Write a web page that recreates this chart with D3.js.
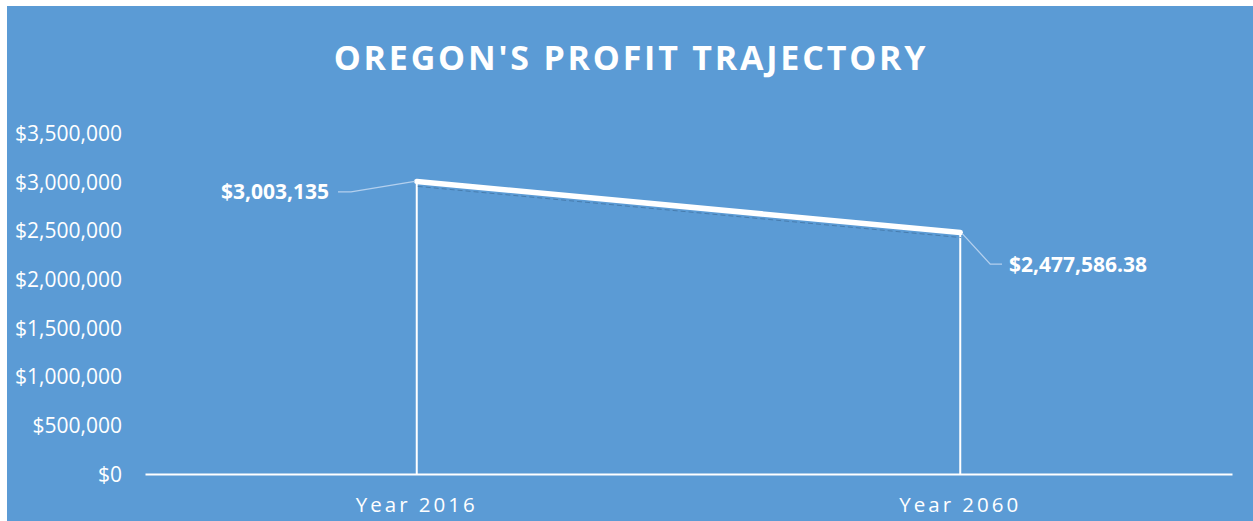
<!DOCTYPE html>
<html><head><meta charset="utf-8">
<script src="https://cdn.jsdelivr.net/npm/d3@7"></script>
<style>
html,body{margin:0;padding:0;background:#fff;}
svg{display:block;}
</style></head>
<body>
<svg id="chart" width="1253" height="521"></svg>
<script>
const categories = ["Year 2016", "Year 2060"];
const profits = [3003135, 2477586.38];
const dataLabels = ["$3,003,135", "$2,477,586.38"];
const yTicks = [0, 500000, 1000000, 1500000, 2000000, 2500000, 3000000, 3500000];
const title = "OREGON'S PROFIT TRAJECTORY";

const W = 1253, H = 521;
const bg = "#5B9BD5";
const font = "'Open Sans', 'Noto Sans', sans-serif";
const svg = d3.select("#chart");

svg.append("rect").attr("x", 7).attr("y", 6).attr("width", W - 7).attr("height", H - 6).attr("fill", bg);

const plot = {left: 145, right: 1232, top: 133, bottom: 474};
const x = d3.scaleBand().domain(categories).range([plot.left, plot.right]).paddingInner(0).paddingOuter(0);
const y = d3.scaleLinear().domain([0, 3500000]).range([plot.bottom, plot.top]);
const cx = c => x(c) + x.bandwidth() / 2;

// Title
svg.append("text").attr("x", 631).attr("y", 70).attr("text-anchor", "middle")
  .attr("fill", "#fff").attr("font-family", font).attr("font-weight", 700)
  .attr("font-size", 34).attr("letter-spacing", 2.8).text(title);

// Y axis labels
const fmt = d3.format("$,");
const yAxis = d3.axisLeft(y).tickValues(yTicks).tickFormat(d => fmt(d)).tickSize(0).tickPadding(0);
const yg = svg.append("g").attr("transform", "translate(122,0)").call(yAxis);
yg.select(".domain").remove();
yg.selectAll("text").attr("fill", "#fff").attr("font-family", font).attr("font-size", 21).attr("dy", "0.35em");

// X axis
const xAxis = d3.axisBottom(x).tickSize(0).tickPadding(0);
const xg = svg.append("g").attr("transform", `translate(0,${plot.bottom})`).call(xAxis);
xg.select(".domain").attr("stroke", "#fff").attr("stroke-width", 2.2);
xg.selectAll("text").attr("fill", "#fff").attr("font-family", font).attr("font-size", 20.5)
  .attr("letter-spacing", 3).attr("dy", "1.85em").attr("text-anchor", "middle");

const pts = categories.map((c, i) => ({c, v: profits[i], label: dataLabels[i]}));

// drop lines
svg.append("g").selectAll("line").data(pts).join("line")
  .attr("x1", d => cx(d.c)).attr("x2", d => cx(d.c))
  .attr("y1", d => y(d.v)).attr("y2", plot.bottom)
  .attr("stroke", "#fff").attr("stroke-width", 2);

const line = d3.line().x(d => cx(d.c)).y(d => y(d.v));

// shadow
svg.append("path").datum(pts).attr("d", line).attr("transform", "translate(1,5)")
  .attr("fill", "none").attr("stroke", "#3f6f9c").attr("stroke-width", 1)
  .attr("stroke-dasharray", "5,3").attr("opacity", 0.7);

// main line
svg.append("path").datum(pts).attr("d", line)
  .attr("fill", "none").attr("stroke", "#fff").attr("stroke-width", 5.5)
  .attr("stroke-linecap", "round").attr("stroke-linejoin", "round");

// leader lines
const leaderColor = "#b4d0ee";
const p0 = pts[0], p1 = pts[1];
svg.append("polyline")
  .attr("points", [[338, y(p0.v) + 10.5], [351, y(p0.v) + 10.5], [cx(p0.c) - 2, y(p0.v)]].map(p => p.join(",")).join(" "))
  .attr("fill", "none").attr("stroke", leaderColor).attr("stroke-width", 1.3);
svg.append("polyline")
  .attr("points", [[cx(p1.c) + 2, y(p1.v) + 1], [cx(p1.c) + 30, y(p1.v) + 31.5], [1002, y(p1.v) + 31.5]].map(p => p.join(",")).join(" "))
  .attr("fill", "none").attr("stroke", leaderColor).attr("stroke-width", 1.3);

// data labels
svg.append("text").attr("x", 329).attr("y", y(p0.v) + 10.5).attr("dy", "0.35em").attr("text-anchor", "end")
  .attr("fill", "#fff").attr("font-family", font).attr("font-weight", 700).attr("font-size", 21).text(p0.label);
svg.append("text").attr("x", 1009).attr("y", y(p1.v) + 32).attr("dy", "0.35em").attr("text-anchor", "start")
  .attr("fill", "#fff").attr("font-family", font).attr("font-weight", 700).attr("font-size", 21).text(p1.label);
</script>
</body></html>
